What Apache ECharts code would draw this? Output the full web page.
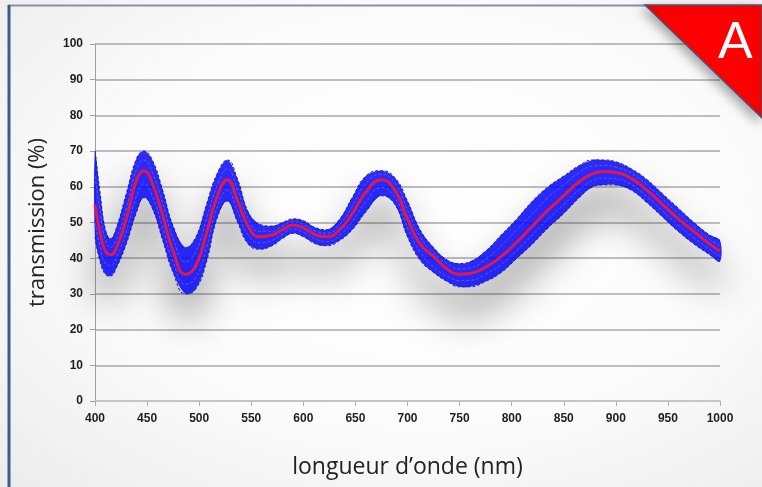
<!DOCTYPE html>
<html>
<head>
<meta charset="utf-8">
<script src="https://cdn.jsdelivr.net/npm/echarts@6/dist/echarts.min.js"></script>
<style>
html,body{margin:0;padding:0;}
body{width:762px;height:487px;overflow:hidden;background:radial-gradient(ellipse at 55% 45%, #ffffff 0%, #fbfbfb 55%, #ececec 100%);}
#c{width:762px;height:487px;}
</style>
</head>
<body>
<div id="c"></div>
<script>
// wavelengths (nm)
const wavelengths = [400,405,410,415,420,430,440,447,455,465,475,487,497,507,517,527,537,547,558,570,580,590,600,612,623,635,647,660,675,688,700,712,725,738,750,760,775,790,805,820,835,850,865,878,888,900,915,930,945,960,975,990,1000];
// mean transmission (red)
const meanT = [55,47,42,41,42.5,51,62,64.5,61,52,42,35.5,38,47,57,62,56,49,46,46.5,48,49.3,48.5,46.5,46,48,52.5,58.5,62,59,51,44,40.5,37,35.5,35.7,37.5,40.5,44.5,49,53.5,57.5,61.5,63.7,64.3,64,62.3,59,55,51,47.5,44,42];
// envelope of individual spectra (blue)
const upperT = [70,58,48,45.5,48,58,68,70,67.5,59,49,43,46,55,63.5,67.5,62,53,49.5,49,50,51,50.5,48.5,48,51,57,63,64.5,62.5,56,48,43,39.5,38.5,39,42,46.5,51,56,60,63,66,67.5,67.5,67,65,62,58,54,50,46.5,45];
const lowerT = [46,39,35.5,35,37,44,53,57,54,45,36,30,31.5,39,51,56,50,44,42.5,43.5,45.5,47,46,44,43.5,45,48,53,57.5,55,46,39.5,36,33.5,32,32,33.5,36,40,44,48.5,52.5,57,60,60.5,60.5,59,55.5,51.5,47.5,44,41,39];
const innerHigh = [63,53,45,43,45,54,65,67.5,64,55.5,45.5,39,42,51,60,65,59,51,47.5,47.5,49,50.2,49.5,47.5,47,49.5,54.5,61,63.5,61,53.5,46,41.5,38.5,37,37.3,39.7,43.5,48,52.5,57,60.5,64,65.8,66,65.5,63.7,60.5,56.5,52.5,48.8,45.3,43.5];
const innerLow = [50,43,38.5,38,39.8,47.5,57.5,60.8,57.5,48.5,39,32.7,34.7,43,54,59,53,46.5,44.3,45,46.8,48.2,47.3,45.3,44.7,46.5,50.3,55.7,59.8,57,48.5,41.8,37.5,35,33.7,33.8,35.5,38.2,42.2,46.5,51,55,59.2,61.8,62.4,62.2,60.6,57.2,53.2,49.2,45.7,42.5,40.5];
const yTicks = [0,10,20,30,40,50,60,70,80,90,100];
const xTicks = [400,450,500,550,600,650,700,750,800,850,900,950,1000];

const pairs = arr => wavelengths.map((w,i)=>[w,arr[i]]);
const bandData = wavelengths.map((w,i)=>[w, lowerT[i], upperT[i]]);

const chart = echarts.init(document.getElementById('c'), null, {renderer:'canvas'});
const labelFont = {fontFamily:'Liberation Sans, Arial, sans-serif', fontWeight:'bold', fontSize:12, color:'#1e1e1e'};
const dashed = (name, arr, color) => ({
  name, type:'line', data:pairs(arr), smooth:true, symbol:'none',
  lineStyle:{color:color, width:1, type:[3,2]}, z:3, silent:true
});
chart.setOption({
  backgroundColor:'transparent',
  animation:false,
  grid:{left:95, right:42, top:44, bottom:86},
  xAxis:{
    type:'value', min:400, max:1000, interval:50,
    name:'longueur d\u2019onde (nm)', nameLocation:'middle', nameGap:55,
    nameTextStyle:{fontFamily:'Open Sans, Liberation Sans, sans-serif', fontSize:23, color:'#222'},
    axisLine:{show:true, lineStyle:{color:'#c8c8c8', width:1.5}},
    axisTick:{show:true, length:5, lineStyle:{color:'#b0b0b0'}},
    axisLabel:Object.assign({margin:12, formatter:v=>xTicks.includes(v)?String(v):''}, labelFont),
    splitLine:{show:false}
  },
  yAxis:{
    type:'value', min:0, max:100, interval:10,
    name:'transmission (%)', nameLocation:'middle', nameGap:46,
    nameTextStyle:{fontFamily:'Open Sans, Liberation Sans, sans-serif', fontSize:22, color:'#222'},
    axisLine:{show:true, lineStyle:{color:'#a0a0a0', width:1}},
    axisTick:{show:true, length:5, lineStyle:{color:'#a0a0a0'}},
    axisLabel:Object.assign({margin:12, formatter:v=>yTicks.includes(v)?String(v):''}, labelFont),
    splitLine:{show:true, lineStyle:{color:'#a8a8a8', width:1.5}}
  },
  series:[
    {name:'band', type:'custom', data:bandData, silent:true, z:2,
     renderItem:function(params, api){
       if (params.dataIndex !== 0) return null;
       const up = bandData.map(d=>api.coord([d[0], d[2]]));
       const lo = bandData.map(d=>api.coord([d[0], d[1]])).reverse();
       return {type:'polygon', shape:{points:up.concat(lo), smooth:0.35},
               style:{fill:'rgba(8,8,250,0.86)', shadowColor:'rgba(0,0,0,0.45)', shadowBlur:38, shadowOffsetY:28}};
     }},
    dashed('upper', upperT, '#1a1aa0'),
    dashed('lower', lowerT, '#1a1aa0'),
    dashed('innerHigh', innerHigh, '#5a5aff'),
    dashed('innerLow', innerLow, '#5a5aff'),
    {name:'mean', type:'line', data:pairs(meanT), smooth:true, symbol:'none',
     lineStyle:{color:'#e3184a', width:3}, z:5, silent:true}
  ],
  graphic:[
    {type:'line', shape:{x1:8, y1:5.5, x2:650, y2:5.5}, style:{stroke:'#8290ae', lineWidth:2}, z:10},
    {type:'line', shape:{x1:9, y1:5, x2:9, y2:487}, style:{stroke:'#3d5b8f', lineWidth:3}, z:10},
    {type:'polygon', shape:{points:[[645,5],[762,5],[762,118]]},
     style:{fill:'#ff0000', stroke:'#4a5478', lineWidth:1.5, shadowColor:'rgba(0,0,0,0.35)', shadowBlur:12, shadowOffsetX:-3, shadowOffsetY:4}, z:10},
    {type:'text', left:718, top:18, style:{text:'A', fill:'#ffffff', font:'52px "Liberation Sans", Arial, sans-serif'}, z:11}
  ]
});
</script>
</body>
</html>
